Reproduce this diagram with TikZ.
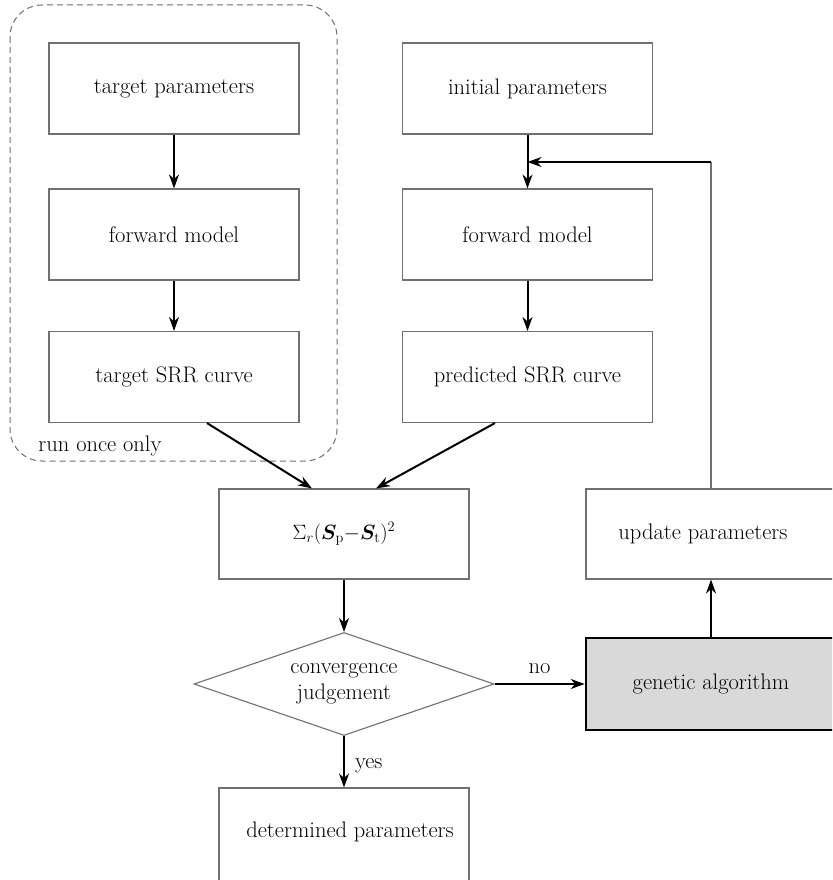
\documentclass[tikz,border=0pt]{standalone}
\usepackage{bm}
\usetikzlibrary{arrows.meta,shapes.geometric,calc}
\definecolor{boxgray}{HTML}{707070}
\definecolor{gafill}{HTML}{D9D9D9}
\begin{document}
\begin{tikzpicture}[x=1pt,y=-1pt,
  every node/.style={font=\fontsize{22.5}{26}\selectfont},
  procbox/.style={draw=boxgray,line width=1.1pt,rectangle,minimum width=250pt,minimum height=91pt,inner sep=0pt,anchor=center},
  gabox/.style={draw=black,line width=2.6pt,fill=gafill,rectangle,minimum width=250pt,minimum height=92pt,inner sep=0pt},
  decide/.style={draw=boxgray,line width=1.1pt,diamond,aspect=2.9,minimum width=300pt,minimum height=103pt,inner sep=0pt,align=center},
  arr/.style={draw=black,line width=2pt,-{Stealth[length=14pt,width=10pt]}},
  thinline/.style={draw=boxgray,line width=1.1pt},
  lbl/.style={inner sep=0pt}
]
\useasboundingbox (0,0) rectangle (832,880);
\fill[white] (0,0) rectangle (832,880);
\clip (0,0) rectangle (832,880);

% dashed group
\draw[boxgray,line width=1pt,dash pattern=on 6pt off 4pt,rounded corners=32pt] (10,5) rectangle (337,461);
\node[lbl] (once) at (100,446) {run once only};

% left column
\node[procbox] (tp) at (174,88.5) {target parameters};
\node[procbox] (fm1) at (174,234.5) {forward model};
\node[procbox] (tsrr) at (174,377) {target SRR curve};

% right column
\node[procbox] (ip) at (527.5,88.5) {initial parameters};
\node[procbox] (fm2) at (527.5,234.5) {forward model};
\node[procbox] (psrr) at (527.5,377) {predicted SRR curve};

% middle
\node[procbox,minimum height=90pt] (sum) at (344,534) {$\Sigma_{r}(\bm{S}_{\mathrm{p}}\mathord{-}\bm{S}_{\mathrm{t}})^{2}$};
\node[procbox,minimum height=90pt] (upd) at (711,534) {\hspace*{-16pt}update parameters};
\node[decide] (conv) at (344,684) {convergence\\judgement};
\node[gabox] (ga) at (711,684) {genetic algorithm};
\node[procbox,minimum height=110pt] (det) at (344,843) {};
\node[lbl] (detlbl) at (350,832) {determined parameters};

% connectors
\draw[arr] (tp.south) -- (fm1.north);
\draw[arr] (fm1.south) -- (tsrr.north);
\draw[arr] (ip.south) -- (fm2.north);
\draw[arr] (fm2.south) -- (psrr.north);
\draw[arr] ([xshift=33pt]tsrr.south) -- ([xshift=-32pt]sum.north);
\draw[arr] ([xshift=-32.5pt]psrr.south) -- ([xshift=32pt]sum.north);
\draw[arr] (sum.south) -- (conv.north);
\draw[arr] (conv.east) -- node[lbl,above=9pt] (nolbl) {no} (ga.west);
\draw[arr] (conv.south) -- node[lbl,right=10pt,yshift=-4pt] (yeslbl) {yes} (det.north);
\draw[arr] (ga.north) -- (upd.south);
\coordinate (fbcorner) at (711,162);
\coordinate (fbjoin) at (527.5,162);
\draw[thinline] (upd.north) -- (fbcorner);
\draw[arr] (fbcorner) -- (fbjoin);
\end{tikzpicture}
\end{document}
